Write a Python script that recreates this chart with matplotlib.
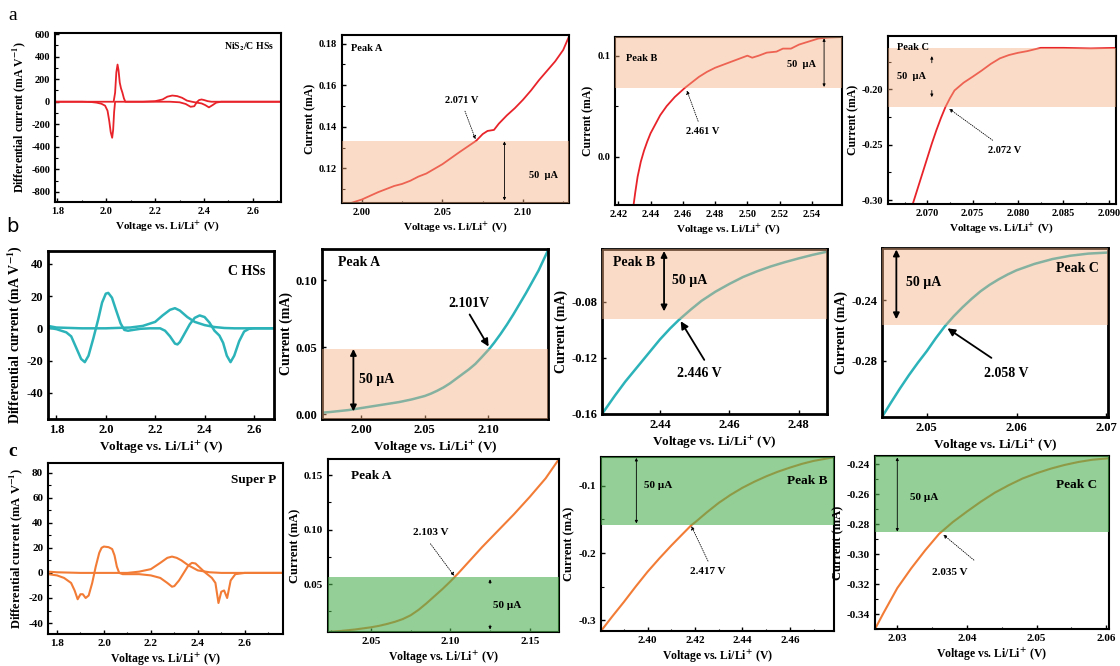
import numpy as np
import matplotlib
matplotlib.use("Agg")
import matplotlib.pyplot as plt
from matplotlib.ticker import FormatStrFormatter, MultipleLocator

plt.rcParams['font.family'] = ['Liberation Serif', 'DejaVu Serif']
plt.rcParams['font.weight'] = 'bold'
plt.rcParams['axes.labelweight'] = 'bold'
plt.rcParams['mathtext.fontset'] = 'stix'
plt.rcParams['axes.unicode_minus'] = False

# ---------------- data ----------------
XLAB = 'Voltage vs. Li/Li$^{+}$ (V)'
# Row a: NiS2/C HSs
a1_v1 = [1.79, 1.90, 1.94, 1.96, 1.98, 1.995, 2.005, 2.012, 2.018, 2.024, 2.028, 2.032, 2.036, 2.05, 2.20, 2.26, 2.30, 2.325, 2.345, 2.36, 2.37, 2.38, 2.39, 2.40, 2.415, 2.43, 2.50, 2.71]
a1_i1 = [0, 0, -3, -8, -18, -35, -80, -170, -270, -320, -250, -90, 0, 0, 0, 0, -5, -20, -45, -40, -5, 15, 20, 15, 5, 0, 0, 0]
a1_v2 = [1.79, 2.00, 2.030, 2.036, 2.041, 2.046, 2.050, 2.055, 2.060, 2.066, 2.072, 2.078, 2.15, 2.20, 2.23, 2.25, 2.27, 2.29, 2.31, 2.33, 2.35, 2.37, 2.39, 2.405, 2.42, 2.435, 2.45, 2.47, 2.71]
a1_i2 = [0, 0, 0, 80, 260, 330, 280, 170, 120, 80, 30, 0, 0, 5, 20, 45, 55, 50, 35, 10, 0, -8, -15, -30, -50, -30, -8, 0, 0]

a2_v = [1.990, 2.000, 2.010, 2.020, 2.025, 2.030, 2.035, 2.040, 2.050, 2.060, 2.071, 2.075, 2.078, 2.082, 2.085, 2.090, 2.095, 2.100, 2.105, 2.110, 2.115, 2.120, 2.125, 2.1286]
a2_i = [0.1025, 0.1050, 0.1085, 0.1115, 0.1125, 0.1140, 0.1160, 0.1175, 0.1220, 0.1275, 0.1333, 0.1365, 0.1380, 0.1385, 0.1415, 0.1455, 0.1490, 0.1530, 0.1575, 0.1625, 0.1670, 0.1715, 0.1770, 0.1835]

a3_v = [2.4295, 2.4305, 2.432, 2.434, 2.436, 2.438, 2.440, 2.443, 2.446, 2.450, 2.455, 2.461, 2.466, 2.470, 2.475, 2.480, 2.485, 2.490, 2.495, 2.500, 2.503, 2.507, 2.512, 2.518, 2.522, 2.527, 2.532, 2.538, 2.544, 2.550, 2.5586]
a3_i = [-0.048, -0.036, -0.020, -0.005, 0.006, 0.015, 0.023, 0.032, 0.041, 0.050, 0.059, 0.0677, 0.074, 0.079, 0.084, 0.088, 0.091, 0.094, 0.097, 0.100, 0.098, 0.100, 0.103, 0.104, 0.107, 0.107, 0.111, 0.114, 0.117, 0.118, 0.1185]

a4_v = [2.0684, 2.069, 2.0695, 2.070, 2.0705, 2.071, 2.0715, 2.072, 2.0725, 2.073, 2.074, 2.075, 2.076, 2.077, 2.078, 2.079, 2.080, 2.081, 2.0825, 2.085, 2.088, 2.0908]
a4_i = [-0.3036, -0.288, -0.275, -0.262, -0.249, -0.237, -0.226, -0.216, -0.208, -0.201, -0.194, -0.1886, -0.183, -0.177, -0.172, -0.169, -0.167, -0.1655, -0.1625, -0.1625, -0.163, -0.1625]

# Row b: C HSs
b1_v1 = [1.766, 1.78, 1.80, 1.82, 1.84, 1.86, 1.88, 1.90, 1.915, 1.93, 1.95, 1.97, 1.985, 2.00, 2.01, 2.025, 2.04, 2.06, 2.075, 2.09, 2.11, 2.14, 2.18, 2.22, 2.24, 2.26, 2.28, 2.29, 2.30, 2.32, 2.34, 2.36, 2.38, 2.40, 2.42, 2.44, 2.46, 2.475, 2.49, 2.505, 2.52, 2.54, 2.56, 2.58, 2.60, 2.681]
b1_i1 = [0.5, 0, -0.5, -1.5, -2.5, -5, -12, -19, -21, -17, -6, 6, 16, 21.5, 22, 19, 12, 3, -1, -1.5, -1, -0.3, 0, 0, -1.5, -5, -9.5, -10, -8.5, -3, 2.5, 6.5, 8, 7, 3.5, -1.5, -4.5, -9, -17, -21, -17, -8, -2, -0.3, 0, 0]
b1_v2 = [1.766, 1.80, 1.90, 2.00, 2.10, 2.15, 2.20, 2.23, 2.26, 2.28, 2.30, 2.33, 2.36, 2.40, 2.44, 2.48, 2.52, 2.60, 2.681]
b1_i2 = [1.5, 0.5, 0, 0, 0.5, 1.5, 4, 8, 11.5, 12.5, 11, 7, 4, 2, 0.8, 0.2, 0, 0, 0]

b2_v = [1.969, 1.975, 1.980, 1.990, 2.000, 2.010, 2.020, 2.030, 2.040, 2.050, 2.055, 2.060, 2.065, 2.070, 2.075, 2.080, 2.085, 2.090, 2.095, 2.101, 2.105, 2.110, 2.115, 2.120, 2.125, 2.130, 2.135, 2.140, 2.1474]
b2_i = [0.001, 0.0015, 0.002, 0.003, 0.0045, 0.006, 0.0075, 0.009, 0.011, 0.0135, 0.0153, 0.0175, 0.0200, 0.0230, 0.0265, 0.0300, 0.0335, 0.0375, 0.0425, 0.0487, 0.0535, 0.0600, 0.0670, 0.0745, 0.0825, 0.0905, 0.0990, 0.1075, 0.1225]

b3_v = [2.4233, 2.427, 2.430, 2.433, 2.436, 2.440, 2.443, 2.4455, 2.449, 2.452, 2.456, 2.460, 2.464, 2.468, 2.472, 2.476, 2.480, 2.484, 2.4882]
b3_i = [-0.160, -0.147, -0.137, -0.128, -0.119, -0.107, -0.099, -0.0930, -0.0855, -0.0795, -0.0730, -0.0675, -0.0625, -0.0585, -0.0550, -0.0520, -0.0493, -0.0468, -0.0445]

b4_v = [2.045, 2.046, 2.047, 2.048, 2.049, 2.050, 2.051, 2.052, 2.053, 2.054, 2.055, 2.056, 2.057, 2.058, 2.059, 2.060, 2.062, 2.064, 2.066, 2.068, 2.0702]
b4_i = [-0.317, -0.3075, -0.2982, -0.2894, -0.2812, -0.2735, -0.2650, -0.2572, -0.2505, -0.2445, -0.2390, -0.2340, -0.2298, -0.2262, -0.2230, -0.2202, -0.2160, -0.2128, -0.2106, -0.2092, -0.2085]

# Row c: Super P
c1_v1 = [1.762, 1.80, 1.83, 1.86, 1.875, 1.888, 1.90, 1.91, 1.922, 1.935, 1.95, 1.965, 1.98, 1.99, 2.00, 2.02, 2.035, 2.045, 2.055, 2.065, 2.08, 2.15, 2.20, 2.24, 2.27, 2.29, 2.30, 2.32, 2.34, 2.36, 2.375, 2.39, 2.41, 2.43, 2.46, 2.475, 2.488, 2.50, 2.512, 2.525, 2.54, 2.56, 2.60, 2.763]
c1_i1 = [-1, -2, -4, -8, -14, -21, -17, -17, -20, -18, -8, 5, 16, 20, 21, 20.5, 19, 14, 5, 0, -1, -1, -2, -4, -8, -11, -10.5, -6, 0, 6, 8, 7.5, 4, 0.5, -4, -8, -24, -15, -14, -20, -6, -1, 0, 0]
c1_v2 = [1.762, 1.80, 1.90, 2.00, 2.10, 2.15, 2.20, 2.24, 2.27, 2.29, 2.31, 2.33, 2.36, 2.40, 2.45, 2.50, 2.763]
c1_i2 = [1, 0.5, 0, 0, 0, 1, 3, 8, 12, 13, 12, 10, 6, 2, 0.5, 0, 0]

c2_v = [2.023, 2.030, 2.040, 2.050, 2.055, 2.060, 2.065, 2.070, 2.075, 2.080, 2.085, 2.090, 2.095, 2.100, 2.105, 2.110, 2.115, 2.120, 2.125, 2.130, 2.135, 2.140, 2.145, 2.150, 2.155, 2.160, 2.1684]
c2_i = [0.0062, 0.0070, 0.0085, 0.0105, 0.0118, 0.0135, 0.0155, 0.0180, 0.0215, 0.0265, 0.0325, 0.0390, 0.0455, 0.0525, 0.0600, 0.0680, 0.0760, 0.0840, 0.0915, 0.0990, 0.1065, 0.1140, 0.1220, 0.1300, 0.1385, 0.1470, 0.1647]

c3_v = [2.3804, 2.385, 2.390, 2.395, 2.400, 2.405, 2.410, 2.415, 2.4185, 2.420, 2.425, 2.430, 2.435, 2.440, 2.445, 2.450, 2.455, 2.460, 2.465, 2.470, 2.4786]
c3_i = [-0.316, -0.295, -0.273, -0.250, -0.228, -0.208, -0.189, -0.171, -0.1585, -0.1545, -0.1395, -0.1255, -0.1135, -0.1030, -0.0940, -0.0860, -0.0790, -0.0730, -0.0675, -0.0630, -0.0575]

c4_v = [2.0268, 2.028, 2.030, 2.032, 2.034, 2.036, 2.038, 2.040, 2.042, 2.044, 2.046, 2.048, 2.050, 2.052, 2.054, 2.056, 2.058, 2.0604]
c4_i = [-0.350, -0.3395, -0.3227, -0.3095, -0.2975, -0.2865, -0.2785, -0.2716, -0.2650, -0.2590, -0.2540, -0.2495, -0.2460, -0.2430, -0.2405, -0.2385, -0.2370, -0.2360]

RED = '#e8232a'
CYAN = '#2bb3b9'
ORANGE = '#f27c36'
PEACH = '#f4b183'
GREEN = '#4caf50'

W, H = 1120, 666
fig = plt.figure(figsize=(W / 100, H / 100), dpi=100)


def add_ax(l, t, r, b, lw=1.5):
    ax = fig.add_axes([l / W, 1 - b / H, (r - l) / W, (b - t) / H])
    for s in ax.spines.values():
        s.set_linewidth(lw)
    ax.tick_params(direction='in', which='both', top=False, right=False)
    ax.tick_params(which='major', length=3, width=1)
    ax.tick_params(which='minor', length=1.8, width=0.8)
    return ax


def style(ax, xl, yl, xt, yt, xf, yf, fs_t, fs_l, ylab, xmin=None, ymin=None):
    ax.set_xlim(*xl)
    ax.set_ylim(*yl)
    ax.set_xticks(xt)
    ax.set_yticks(yt)
    ax.xaxis.set_major_formatter(FormatStrFormatter(xf))
    ax.yaxis.set_major_formatter(FormatStrFormatter(yf))
    if xmin:
        ax.xaxis.set_minor_locator(MultipleLocator(xmin))
    if ymin:
        ax.yaxis.set_minor_locator(MultipleLocator(ymin))
    for lab in ax.get_xticklabels() + ax.get_yticklabels():
        lab.set_fontsize(fs_t)
        lab.set_fontweight('bold')
    ax.set_xlabel(XLAB, fontsize=fs_l, fontweight='bold', labelpad=2)
    ax.set_ylabel(ylab, fontsize=fs_l + 0.5, fontweight='bold', labelpad=2)


def dbl(ax, x, y0, y1, lw, ms, style_='<|-|>'):
    ax.annotate('', xy=(x, y1), xytext=(x, y0),
                arrowprops=dict(arrowstyle=style_, lw=lw, color='k', mutation_scale=ms,
                                shrinkA=0, shrinkB=0), zorder=6)


def ptr(ax, xy, xyt, lw, ms, ls='-'):
    ax.annotate('', xy=xy, xytext=xyt,
                arrowprops=dict(arrowstyle='-|>', lw=lw, color='k', mutation_scale=ms,
                                linestyle=ls, shrinkA=0, shrinkB=0), zorder=6)

DIFF = 'Differential current (mA V$^{-1}$)'
CUR = 'Current (mA)'

# ================= Row a =================
ax = add_ax(55, 33, 281, 202)
ax.plot(a1_v1, a1_i1, color=RED, lw=1.3)
ax.plot(a1_v2, a1_i2, color=RED, lw=1.3)
style(ax, (1.79, 2.715), (-890, 610), [1.8, 2.0, 2.2, 2.4, 2.6], list(range(-800, 601, 200)),
      '%.1f', '%d', 7.5, 8, DIFF, 0.1, 100)
ax.text(0.97, 0.92, 'NiS$_2$/C HSs', transform=ax.transAxes, ha='right', va='center', fontsize=7, fontweight='bold')

ax = add_ax(342, 35, 569, 203)
ax.plot(a2_v, a2_i, color=RED, lw=1.3, zorder=2)
ax.axhspan(0.0833, 0.1333, color=PEACH, alpha=0.45, lw=0, zorder=3)
style(ax, (1.9876, 2.1286), (0.1033, 0.1842), [2.00, 2.05, 2.10], [0.12, 0.14, 0.16, 0.18],
      '%.2f', '%.2f', 7.5, 8, CUR, 0.025, 0.01)
ax.text(0.04, 0.92, 'Peak A', transform=ax.transAxes, fontsize=7.5, fontweight='bold', va='center')
ax.text(2.062, 0.1525, '2.071 V', fontsize=7.5, fontweight='bold', ha='center', va='center')
ptr(ax, (2.0705, 0.1340), (2.064, 0.1475), 0.6, 5, ':')
dbl(ax, 2.0885, 0.1045, 0.1330, 0.6, 4)
ax.text(2.113, 0.1165, '50  µA', fontsize=7.5, ha='center', va='center')

ax = add_ax(615, 37, 842, 205)
ax.plot(a3_v, a3_i, color=RED, lw=1.3, zorder=2)
ax.axhspan(0.0677, 0.1185, color=PEACH, alpha=0.45, lw=0, zorder=3)
style(ax, (2.418, 2.5586), (-0.048, 0.1185), [2.42, 2.44, 2.46, 2.48, 2.50, 2.52, 2.54], [0.0, 0.1],
      '%.2f', '%.1f', 7.5, 8, CUR, None, 0.05)
ax.text(0.05, 0.87, 'Peak B', transform=ax.transAxes, fontsize=7.5, fontweight='bold', va='center')
ax.text(2.4725, 0.0245, '2.461 V', fontsize=7.5, fontweight='bold', ha='center', va='center')
ptr(ax, (2.4625, 0.0655), (2.4695, 0.035), 0.6, 5, ':')
dbl(ax, 2.5475, 0.069, 0.1172, 0.6, 4)
ax.text(2.5335, 0.0917, '50  µA', fontsize=7.5, ha='center', va='center')

ax = add_ax(888, 36, 1116, 204)
ax.plot(a4_v, a4_i, color=RED, lw=1.3, zorder=2)
ax.axhspan(-0.2157, -0.163, color=PEACH, alpha=0.45, lw=0, zorder=3)
style(ax, (2.06567, 2.0908), (-0.3036, -0.1518), [2.070, 2.075, 2.080, 2.085, 2.090], [-0.30, -0.25, -0.20],
      '%.3f', '%.2f', 7.5, 8, CUR, 0.0025, 0.025)
ax.text(0.04, 0.93, 'Peak C', transform=ax.transAxes, fontsize=7.5, fontweight='bold', va='center')
ax.text(2.0785, -0.2555, '2.072 V', fontsize=7.5, fontweight='bold', ha='center', va='center')
ptr(ax, (2.0724, -0.2175), (2.0772, -0.2460), 0.6, 5, ':')
dbl(ax, 2.0705, -0.176, -0.170, 0.6, 4, '-|>')
dbl(ax, 2.0705, -0.201, -0.207, 0.6, 4, '-|>')
ax.text(2.0683, -0.1885, '50  µA', fontsize=7.5, ha='center', va='center')

# ================= Row b =================
LWB = 1.8
FB = 9.5
ax = add_ax(48, 251, 274, 419, lw=2)
ax.plot(b1_v1, b1_i1, color=CYAN, lw=LWB)
ax.plot(b1_v2, b1_i2, color=CYAN, lw=LWB)
style(ax, (1.766, 2.681), (-56.3, 48), [1.8, 2.0, 2.2, 2.4, 2.6], [-40, -20, 0, 20, 40],
      '%.1f', '%d', 9, FB, DIFF)
ax.text(0.96, 0.88, 'C HSs', transform=ax.transAxes, ha='right', va='center', fontsize=10, fontweight='bold')

ax = add_ax(322, 249, 548, 419, lw=2)
ax.plot(b2_v, b2_i, color=CYAN, lw=LWB, zorder=2)
ax.axhspan(-0.0037, 0.0487, color=PEACH, alpha=0.45, lw=0, zorder=3)
style(ax, (1.9689, 2.1474), (-0.0037, 0.1235), [2.00, 2.05, 2.10], [0.00, 0.05, 0.10],
      '%.2f', '%.2f', 9, FB, CUR)
ax.text(0.07, 0.92, 'Peak A', transform=ax.transAxes, fontsize=10, fontweight='bold', va='center')
ax.text(2.085, 0.0825, '2.101V', fontsize=10, fontweight='bold', ha='center', va='center')
ptr(ax, (2.1005, 0.0505), (2.0855, 0.0745), 1.3, 11)
dbl(ax, 1.9937, 0.002, 0.0487, 1.3, 9)
ax.text(1.9985, 0.0255, '50 µA', fontsize=10, fontweight='bold', ha='left', va='center')

ax = add_ax(602, 249, 827, 414, lw=2)
ax.plot(b3_v, b3_i, color=CYAN, lw=LWB, zorder=2)
ax.axhspan(-0.0926, -0.0426, color=PEACH, alpha=0.45, lw=0, zorder=3)
style(ax, (2.4233, 2.4882), (-0.160, -0.0426), [2.44, 2.46, 2.48], [-0.16, -0.12, -0.08],
      '%.2f', '%.2f', 9, FB, CUR)
ax.text(0.05, 0.92, 'Peak B', transform=ax.transAxes, fontsize=10, fontweight='bold', va='center')
ax.text(2.4515, -0.1315, '2.446 V', fontsize=10, fontweight='bold', ha='center', va='center')
ptr(ax, (2.4460, -0.0940), (2.4528, -0.1215), 1.3, 11)
dbl(ax, 2.4412, -0.0870, -0.0440, 1.3, 9)
ax.text(2.4435, -0.0650, '50 µA', fontsize=10, fontweight='bold', ha='left', va='center')

ax = add_ax(882, 248, 1108, 417, lw=2)
ax.plot(b4_v, b4_i, color=CYAN, lw=LWB, zorder=2)
ax.axhspan(-0.2565, -0.2055, color=PEACH, alpha=0.45, lw=0, zorder=3)
style(ax, (2.045, 2.0702), (-0.317, -0.2055), [2.05, 2.06, 2.07], [-0.28, -0.24],
      '%.2f', '%.2f', 9, FB, CUR)
ax.text(0.96, 0.88, 'Peak C', transform=ax.transAxes, ha='right', fontsize=10, fontweight='bold', va='center')
ax.text(2.0588, -0.2880, '2.058 V', fontsize=10, fontweight='bold', ha='center', va='center')
ptr(ax, (2.0523, -0.2585), (2.0572, -0.2780), 1.3, 11)
dbl(ax, 2.0466, -0.2525, -0.2065, 1.3, 9)
ax.text(2.0477, -0.2285, '50 µA', fontsize=10, fontweight='bold', ha='left', va='center')

# ================= Row c =================
LWC = 1.5
ax = add_ax(48, 463, 283, 634)
ax.plot(c1_v1, c1_i1, color=ORANGE, lw=LWC)
ax.plot(c1_v2, c1_i2, color=ORANGE, lw=LWC)
style(ax, (1.7616, 2.763), (-48.7, 87.6), [1.8, 2.0, 2.2, 2.4, 2.6], list(range(-40, 81, 20)),
      '%.1f', '%d', 8, 8.5, DIFF, 0.1, 10)
ax.text(0.97, 0.9, 'Super P', transform=ax.transAxes, ha='right', va='center', fontsize=9.5, fontweight='bold')

ax = add_ax(328, 459, 559, 632)
ax.plot(c2_v, c2_i, color=ORANGE, lw=LWC, zorder=2)
ax.axhspan(0.0062, 0.0565, color=GREEN, alpha=0.6, lw=0, zorder=3)
style(ax, (2.023, 2.1684), (0.0062, 0.1647), [2.05, 2.10, 2.15], [0.05, 0.10, 0.15],
      '%.2f', '%.2f', 8, 8.5, CUR, 0.025, 0.025)
ax.text(0.1, 0.9, 'Peak A', transform=ax.transAxes, fontsize=9.5, fontweight='bold', va='center')
ax.text(2.0875, 0.0975, '2.103 V', fontsize=8, fontweight='bold', ha='center', va='center')
ptr(ax, (2.1025, 0.0575), (2.0875, 0.0870), 0.6, 5, ':')
dbl(ax, 2.125, 0.0505, 0.0545, 0.6, 4, '-|>')
dbl(ax, 2.125, 0.0125, 0.0085, 0.6, 4, '-|>')
ax.text(2.136, 0.0305, '50 µA', fontsize=8, fontweight='bold', ha='center', va='center')

ax = add_ax(601, 457, 834, 631)
ax.plot(c3_v, c3_i, color=ORANGE, lw=LWC, zorder=2)
ax.axhspan(-0.1585, -0.0572, color=GREEN, alpha=0.6, lw=0, zorder=3)
style(ax, (2.3804, 2.4786), (-0.316, -0.0572), [2.40, 2.42, 2.44, 2.46], [-0.3, -0.2, -0.1],
      '%.2f', '%.1f', 8, 8.5, CUR, 0.01, 0.05)
ax.text(0.97, 0.86, 'Peak B', transform=ax.transAxes, ha='right', fontsize=9.5, fontweight='bold', va='center')
ax.text(2.4255, -0.2275, '2.417 V', fontsize=8, fontweight='bold', ha='center', va='center')
ptr(ax, (2.4185, -0.1600), (2.4255, -0.2120), 0.6, 5, ':')
dbl(ax, 2.3953, -0.1560, -0.0585, 0.6, 4)
ax.text(2.3985, -0.1000, '50 µA', fontsize=8, fontweight='bold', ha='left', va='center')

ax = add_ax(875, 456, 1109, 629)
ax.plot(c4_v, c4_i, color=ORANGE, lw=LWC, zorder=2)
ax.axhspan(-0.2855, -0.2345, color=GREEN, alpha=0.6, lw=0, zorder=3)
style(ax, (2.0268, 2.0604), (-0.350, -0.2345), [2.03, 2.04, 2.05, 2.06], [-0.34, -0.32, -0.30, -0.28, -0.26, -0.24],
      '%.2f', '%.2f', 8, 8.5, CUR, 0.005, 0.01)
ax.text(0.95, 0.83, 'Peak C', transform=ax.transAxes, ha='right', fontsize=9.5, fontweight='bold', va='center')
ax.text(2.0375, -0.3125, '2.035 V', fontsize=8, fontweight='bold', ha='center', va='center')
ptr(ax, (2.0366, -0.2870), (2.0410, -0.3040), 0.6, 5, ':')
dbl(ax, 2.0300, -0.2850, -0.2355, 0.6, 4)
ax.text(2.0318, -0.2620, '50 µA', fontsize=8, fontweight='bold', ha='left', va='center')

# panel letters
fig.text(8 / W, 1 - 16 / H, 'a', fontsize=14, fontweight='normal', va='center')
fig.text(6 / W, 1 - 227 / H, 'b', fontsize=14, fontweight='normal', va='center', family='DejaVu Sans')
fig.text(8 / W, 1 - 452 / H, 'c', fontsize=14, fontweight='bold', va='center')

fig.savefig('out.png', dpi=100)
